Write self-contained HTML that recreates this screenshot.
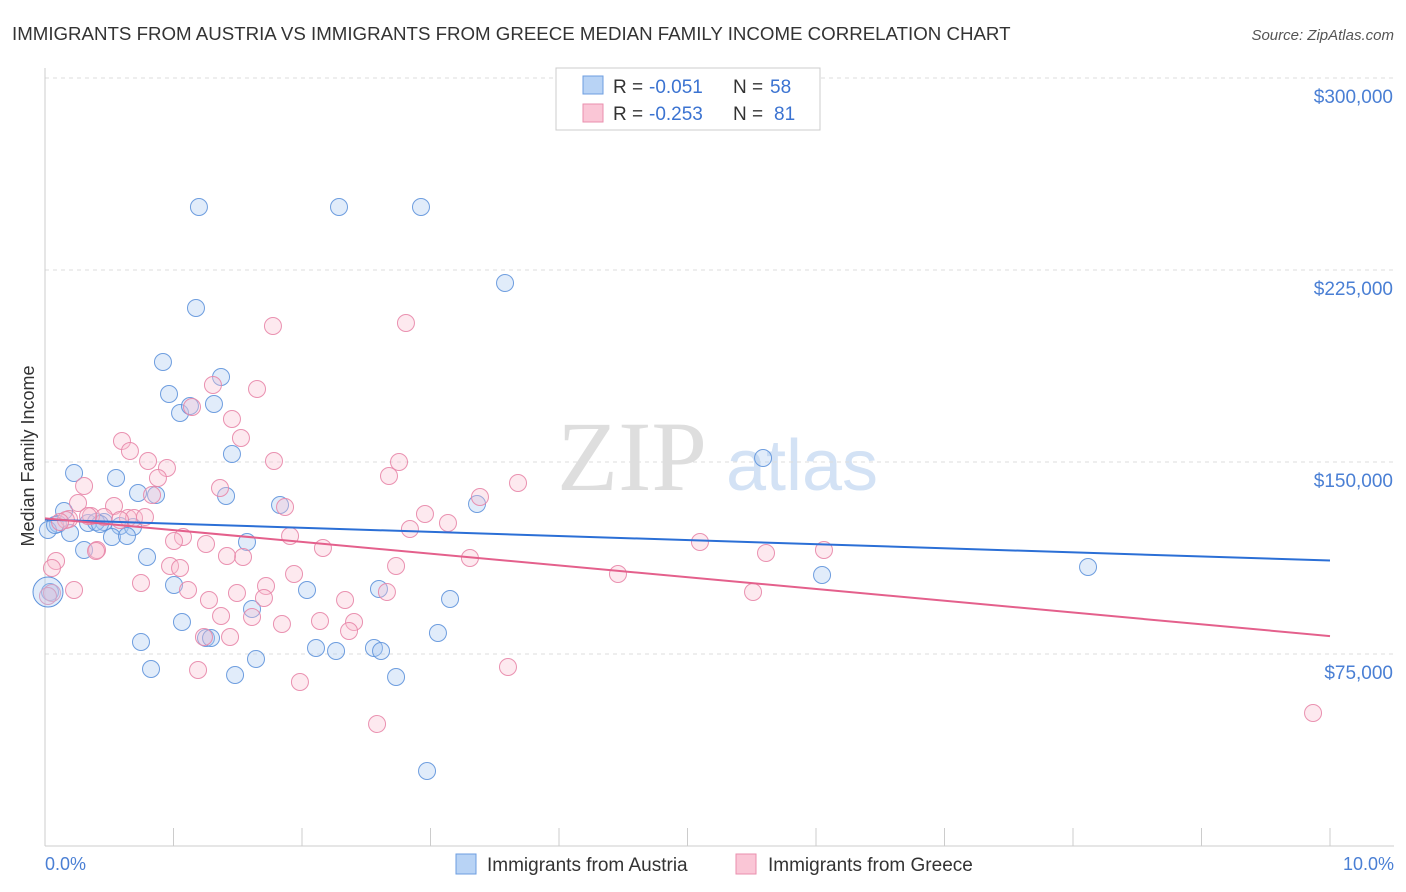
<!DOCTYPE html>
<html><head><meta charset="utf-8"><style>
body{margin:0;background:#fff;font-family:"Liberation Sans",sans-serif}
svg{display:block}
</style></head><body>
<svg width="1406" height="892" xmlns="http://www.w3.org/2000/svg">
<text x="12" y="40" font-size="18.7" fill="#333">IMMIGRANTS FROM AUSTRIA VS IMMIGRANTS FROM GREECE MEDIAN FAMILY INCOME CORRELATION CHART</text>
<text x="1394" y="40" font-size="15" fill="#555" font-style="italic" text-anchor="end">Source: ZipAtlas.com</text>
<text x="632" y="490" font-size="100" fill="#dedede" font-family="Liberation Serif,serif" text-anchor="middle">ZIP</text>
<text x="802" y="490" font-size="72" fill="#d3e2f5" text-anchor="middle">atlas</text>
<g id="grid"></g><g id="axes"></g><g id="pts"></g><g id="lines"></g>
<text transform="translate(34,456) rotate(-90)" font-size="18" fill="#333" text-anchor="middle">Median Family Income</text>
<text x="45" y="870" font-size="18" fill="#4a7fd4">0.0%</text>
<text x="1394" y="870" font-size="18" fill="#4a7fd4" text-anchor="end">10.0%</text>
<g>
<rect x="556" y="68" width="264" height="62" fill="#fff" stroke="#ccc"/>
<rect x="583" y="76" width="20" height="18" fill="#b8d3f5" stroke="#6d9ee0"/>
<rect x="583" y="104" width="20" height="18" fill="#fac6d6" stroke="#ea8fae"/>
<text x="613" y="93" font-size="19" fill="#333">R =</text>
<text x="649" y="93" font-size="19" fill="#3b73d1">-0.051</text>
<text x="733" y="93" font-size="19" fill="#333">N =</text>
<text x="770" y="93" font-size="19" fill="#3b73d1">58</text>
<text x="613" y="120" font-size="19" fill="#333">R =</text>
<text x="649" y="120" font-size="19" fill="#3b73d1">-0.253</text>
<text x="733" y="120" font-size="19" fill="#333">N =</text>
<text x="774" y="120" font-size="19" fill="#3b73d1">81</text>
</g>
<g>
<rect x="456" y="854" width="20" height="20" fill="#b8d3f5" stroke="#6d9ee0"/>
<text x="487" y="871" font-size="19" fill="#333">Immigrants from Austria</text>
<rect x="736" y="854" width="20" height="20" fill="#fac6d6" stroke="#ea8fae"/>
<text x="768" y="871" font-size="19" fill="#333">Immigrants from Greece</text>
</g>
</svg>
<script>
const yTicks=[75000,150000,225000,300000];
const yTickLabels=["$75,000","$150,000","$225,000","$300,000"];
const austriaPx=[[199,207],[339,207],[421,207],[505,283],[196,308],[163,362],[221,377],[169,394],[214,404],[180,413],[190,406],[232,454],[763,458],[74,473],[116,478],[138,493],[156,495],[226,496],[280,505],[477,504],[64,511],[58,524],[88,523],[70,533],[104,522],[120,526],[96,522],[133,527],[112,537],[127,536],[84,550],[247,542],[147,557],[174,585],[307,590],[379,589],[822,575],[1088,567],[450,599],[252,609],[182,622],[141,642],[206,638],[211,638],[438,633],[316,648],[336,651],[374,648],[381,651],[256,659],[151,669],[235,675],[396,677],[427,771],[50,592],[48,530],[55,525],[100,524]];
const greecePx=[[273,326],[406,323],[213,385],[257,389],[192,407],[232,419],[122,441],[241,438],[130,451],[148,461],[167,468],[274,461],[399,462],[389,476],[518,483],[84,486],[158,478],[220,488],[152,495],[480,497],[78,503],[114,506],[285,507],[425,514],[448,523],[91,516],[104,517],[128,518],[69,519],[134,518],[145,517],[410,529],[290,536],[183,537],[174,541],[206,544],[323,548],[700,542],[766,553],[824,550],[470,558],[97,550],[243,557],[227,556],[141,583],[294,574],[396,566],[170,566],[180,568],[618,574],[266,586],[237,593],[387,592],[753,592],[188,590],[345,600],[264,598],[209,600],[252,617],[320,621],[354,622],[221,616],[282,624],[349,631],[230,637],[204,637],[198,670],[508,667],[300,682],[377,724],[1313,713],[56,561],[52,568],[74,590],[52,593],[48,596],[66,520],[88,516],[120,520],[60,522],[96,551]];
const austriaX=austriaPx.map(p=>+((p[0]-45)/128.5).toFixed(3));
const austriaY=austriaPx.map(p=>Math.round(300000-(p[1]-78)/192*75000));
const greeceX=greecePx.map(p=>+((p[0]-45)/128.5).toFixed(3));
const greeceY=greecePx.map(p=>Math.round(300000-(p[1]-78)/192*75000));
const austriaTrend=[127500,111500];
const greeceTrend=[128000,82000];
const X=v=>45+v*128.5, Y=v=>78+(300000-v)/75000*192;
const NS="http://www.w3.org/2000/svg";
function mk(t,a,parent){const e=document.createElementNS(NS,t);for(const k in a)e.setAttribute(k,a[k]);document.getElementById(parent).appendChild(e);return e;}
yTicks.forEach((t,i)=>{
 const l=mk('line',{x1:45,x2:1394,y1:Y(t),y2:Y(t),stroke:'#ddd','stroke-dasharray':'4,4'},'grid');
 
 
 const tx=mk('text',{x:1393,y:Y(t)+25,'font-size':19,fill:'#4a7fd4','text-anchor':'end'},'grid');
 tx.textContent=yTickLabels[i];
 
 
});
const a1=mk('line',{x1:45,x2:45,y1:68,y2:846,stroke:'#ccc'},'axes');


const a2=mk('line',{x1:45,x2:1394,y1:846,y2:846,stroke:'#ccc'},'axes');


for(let i=1;i<=10;i++){const t=mk('line',{x1:X(i),x2:X(i),y1:828,y2:846,stroke:'#ccc'},'axes');
 
 }
function pts(xs,ys,fill,stroke,name){xs.forEach((x,i)=>{
 const c=mk('circle',{cx:X(x),cy:Y(ys[i]),r:8.5,fill:fill,'fill-opacity':0.35,stroke:stroke,'stroke-width':1,'stroke-opacity':0.9},'pts');
 
 });}
pts(austriaX,austriaY,'#a9c9f2','#5f93dc','austria-point');
pts(greeceX,greeceY,'#f8bfd1','#e886a8','greece-point');
const big1=mk('circle',{cx:48,cy:592,r:15,fill:'#a9c9f2','fill-opacity':0.35,stroke:'#5f93dc'},'pts');


const l1=mk('line',{x1:X(0),x2:X(10),y1:Y(austriaTrend[0]),y2:Y(austriaTrend[1]),stroke:'#2b6fd6','stroke-width':2},'lines');


const l2=mk('line',{x1:X(0),x2:X(10),y1:Y(greeceTrend[0]),y2:Y(greeceTrend[1]),stroke:'#e4608c','stroke-width':2},'lines');


</script>
</body></html>
